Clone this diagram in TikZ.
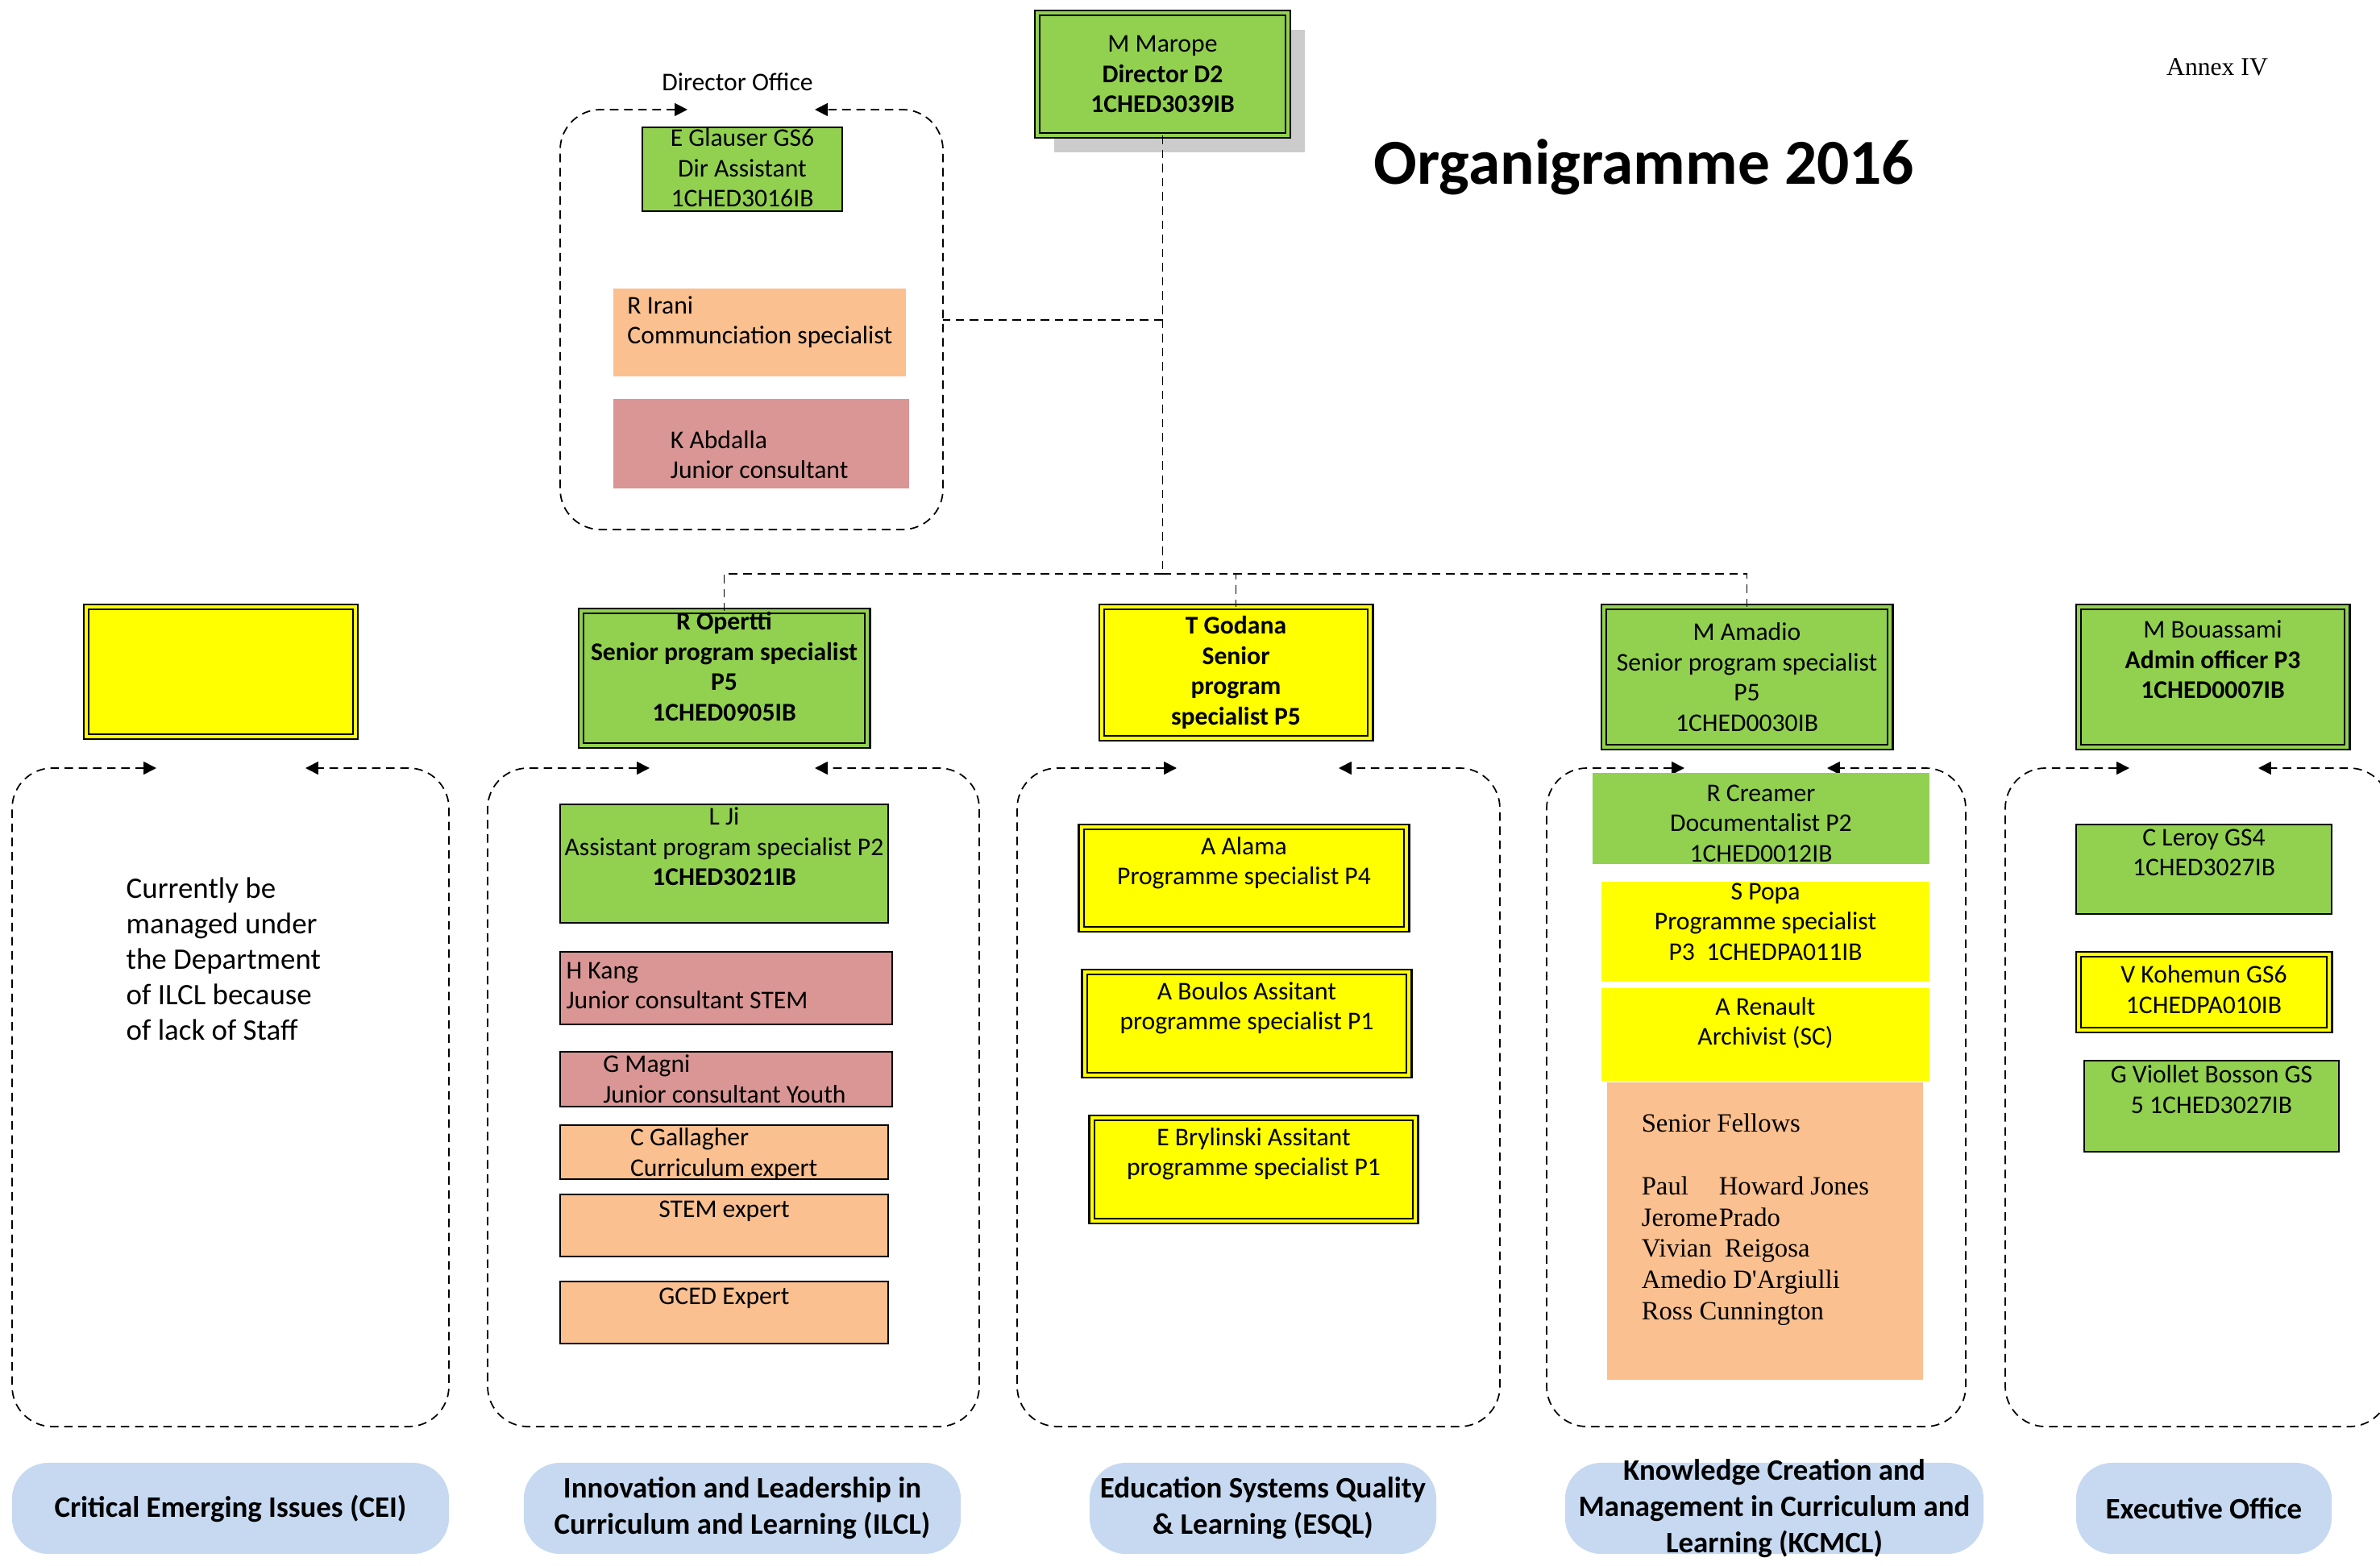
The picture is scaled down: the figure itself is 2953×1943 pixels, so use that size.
\documentclass[tikz,border=0pt]{standalone}
\usepackage{fontspec}
\setmainfont{Carlito}
\newfontfamily\timesfont{Liberation Serif}
\usetikzlibrary{arrows.meta,positioning,shadows}
\definecolor{cgreen}{HTML}{92D050}
\definecolor{cyellow}{HTML}{FFFF00}
\definecolor{cpeach}{HTML}{FAC090}
\definecolor{cpink}{HTML}{D99694}
\definecolor{cblue}{HTML}{C6D9F1}
\tikzset{
  card/.style  ={inner sep=0pt,outer sep=0pt},
  edged/.style ={card,draw,line width=0.6pt},
  dbl/.style   ={card,draw,line width=0.6pt,double=#1,double distance=1.3pt,fill=#1},
  txt/.style   ={font=\fontsize{9}{10.7}\selectfont,align=center,inner sep=0pt},
  ltxt/.style  ={txt,align=left},
  pill/.style  ={fill=cblue,rounded corners=0.45cm,inner sep=0pt,
                 font=\fontsize{10.5}{12.8}\selectfont\bfseries,align=center},
  grp/.style   ={dash pattern=on 3pt off 2pt,line width=0.5pt,rounded corners=0.5cm,
                 {Triangle[length=4.5pt,width=4.5pt]}-{Triangle[length=4.5pt,width=4.5pt]}},
  link/.style  ={dash pattern=on 3pt off 2pt,line width=0.5pt},
}

\begin{document}
\begin{tikzpicture}[x=0.01cm,y=-0.01cm]
  \useasboundingbox (0,0) rectangle (2953,1943);

  % group frames
  \foreach \xl/\xr/\yt/\yb/\pl/\pr in {695/1170/136/657/853/1011,
      15/557/953/1770/194/379, 605/1215/953/1770/806/1011,
      1262/1861/953/1770/1460/1661, 1919/2439/953/1770/2090/2267,
      2488/2965/953/1770/2642/2802}
    \draw[grp] (\pl,\yt) -- (\xl,\yt) -- (\xl,\yb) -- (\xr,\yb) -- (\xr,\yt) -- (\pr,\yt);

  \node[font=\fontsize{22.6}{27}\selectfont\bfseries] (title) at (2040,207) {Organigramme 2016};
  \node[font=\timesfont\fontsize{9}{11}\selectfont] (annex) at (2751,83) {Annex IV};

  % director and office
  \node[dbl=cgreen,txt,minimum width=3.11cm,minimum height=1.52cm,
        drop shadow={shadow xshift=0.21cm,shadow yshift=-0.21cm,fill=black!20,opacity=1}]
        (dir) at (1442.5,92) {M Marope\\\textbf{Director D2}\\\textbf{1CHED3039IB}};
  \node[txt] (ofclabel) at (915,102) {Director Office};

  \node[edged,fill=cgreen,minimum width=2.48cm,minimum height=1.04cm] (glauser) at (921,210) {};
  \node[txt,below=0.3pt of glauser.north] (glauserT) {E Glauser GS6\\Dir Assistant\\1CHED3016IB};
  \node[card,fill=cpeach,minimum width=3.63cm,minimum height=1.09cm] (irani) at (942.5,412.5) {};
  \node[ltxt,below right=2.5pt and 4.8pt of irani.north west] (iraniT) {R Irani\\Communciation specialist};
  \node[card,fill=cpink,minimum width=3.67cm,minimum height=1.11cm] (abdalla) at (944.5,550.5) {};
  \node[ltxt,below right=11pt and 20pt of abdalla.north west] (abdallaT) {K Abdalla\\Junior consultant};

  % heads
  \node[dbl=cyellow,minimum width=3.34cm,minimum height=1.61cm] (cei) at (274,833.5) {};
  \node[dbl=cgreen,minimum width=3.55cm,minimum height=1.67cm] (opertti) at (898.5,841.5) {};
  \node[txt,font=\fontsize{9}{10.7}\selectfont\bfseries,below=0.2pt of opertti.north]
        (operttiT) {R Opertti\\Senior program specialist\\P5\\1CHED0905IB};
  \node[dbl=cyellow,txt,font=\fontsize{9}{10.7}\selectfont\bfseries,minimum width=3.33cm,minimum height=1.63cm]
        (godana) at (1533.5,834.5) {T Godana\\Senior\\program\\specialist P5};
  \node[dbl=cgreen,txt,minimum width=3.55cm,minimum height=1.74cm]
        (amadio) at (2167.5,840) {M Amadio\\Senior program specialist\\P5\\1CHED0030IB};
  \node[dbl=cgreen,minimum width=3.33cm,minimum height=1.74cm] (bouassami) at (2745.5,840) {};
  \node[txt,below=4.6pt of bouassami.north] (bouassamiT) {M Bouassami\\\textbf{Admin officer P3}\\\textbf{1CHED0007IB}};

  \coordinate (bus) at (1442.5,712);
  \coordinate (ofcR) at (1170,397);
  \draw[link] (dir.south) -- (bus);
  \draw[link] (dir.south |- ofcR) -- (ofcR);
  \draw[link] (bus) -| (opertti.north);
  \draw[link] (bus) -| (godana.north);
  \draw[link] (bus) -| (amadio.north);

  % CEI
  \node[ltxt,font=\fontsize{10.5}{12.5}\selectfont,anchor=north west] (ceinote) at (156,1088)
        {Currently be\\managed under\\the Department\\of ILCL because\\of lack of Staff};

  % ILCL
  \node[edged,fill=cgreen,minimum width=4.07cm,minimum height=1.47cm] (ji) at (898.5,1071.5) {};
  \node[txt,below=0.9pt of ji.north] (jiT) {L Ji\\Assistant program specialist P2\\\textbf{1CHED3021IB}};
  \node[edged,fill=cpink,minimum width=4.12cm,minimum height=0.90cm] (kang) at (901,1226) {};
  \node[ltxt,below right=3.5pt and 2pt of kang.north west] (kangT) {H Kang\\Junior consultant STEM};
  \node[edged,fill=cpink,minimum width=4.12cm,minimum height=0.68cm] (magni) at (901,1339) {};
  \node[ltxt,below right=0.9pt and 15pt of magni.north west] (magniT) {G Magni\\Junior consultant Youth};
  \node[edged,fill=cpeach,minimum width=4.07cm,minimum height=0.67cm] (gallagher) at (898.5,1429.5) {};
  \node[ltxt,below right=0.9pt and 24.6pt of gallagher.north west] (gallagherT) {C Gallagher\\Curriculum expert};
  \node[edged,fill=cpeach,minimum width=4.07cm,minimum height=0.77cm] (stem) at (898.5,1520.5) {};
  \node[txt,below=2pt of stem.north] (stemT) {STEM expert};
  \node[edged,fill=cpeach,minimum width=4.07cm,minimum height=0.77cm] (gced) at (898.5,1628.5) {};
  \node[txt,below=2pt of gced.north] (gcedT) {GCED Expert};

  % ESQL
  \node[dbl=cyellow,minimum width=4.03cm,minimum height=1.27cm] (alama) at (1543.5,1089.5) {};
  \node[txt,below=3.3pt of alama.north] (alamaT) {A Alama\\Programme specialist P4};
  \node[dbl=cyellow,minimum width=4.02cm,minimum height=1.28cm] (boulos) at (1547,1270) {};
  \node[txt,below=3.3pt of boulos.north] (boulosT) {A Boulos Assitant\\programme specialist P1};
  \node[dbl=cyellow,minimum width=4.01cm,minimum height=1.28cm] (brylinski) at (1555.5,1451) {};
  \node[txt,below=3.3pt of brylinski.north] (brylinskiT) {E Brylinski Assitant\\programme specialist P1};

  % KCMCL
  \node[card,fill=cgreen,minimum width=4.18cm,minimum height=1.13cm] (creamer) at (2185,1015.5) {};
  \node[txt,below=4pt of creamer.north] (creamerT) {R Creamer\\Documentalist P2\\1CHED0012IB};
  \node[card,fill=cyellow,minimum width=4.07cm,minimum height=1.24cm] (popa) at (2190.5,1156) {};
  \node[txt,below=0.3pt of popa.north] (popaT) {S Popa\\Programme specialist\\P3~~1CHEDPA011IB};
  \node[card,fill=cyellow,minimum width=4.07cm,minimum height=1.15cm] (renault) at (2190.5,1283.5) {};
  \node[txt,below=3pt of renault.north] (renaultT) {A Renault\\Archivist (SC)};
  \node[card,fill=cpeach,minimum width=3.92cm,minimum height=3.69cm] (fellows) at (2190,1527.5) {};
  \node[ltxt,font=\timesfont\fontsize{9.3}{11}\selectfont,below right=11pt and 12pt of fellows.north west]
        (fellowsT) {Senior Fellows\\[11pt]\makebox[27.3pt][l]{Paul}Howard Jones\\\makebox[27.3pt][l]{Jerome}Prado\\
        Vivian\ \ Reigosa\\Amedio D'Argiulli\\Ross Cunnington};

  % Executive office
  \node[edged,fill=cgreen,minimum width=3.17cm,minimum height=1.11cm] (leroy) at (2734.5,1078.5) {};
  \node[txt,below=1.4pt of leroy.north] (leroyT) {C Leroy GS4\\1CHED3027IB};
  \node[dbl=cyellow,minimum width=3.11cm,minimum height=0.94cm] (kohemun) at (2734.5,1231) {};
  \node[txt,below=3.7pt of kohemun.north] (kohemunT) {V Kohemun GS6\\1CHEDPA010IB};
  \node[edged,fill=cgreen,minimum width=3.16cm,minimum height=1.13cm] (viollet) at (2744,1372.5) {};
  \node[txt,below=1.4pt of viollet.north] (violletT) {G Viollet Bosson GS\\5 1CHED3027IB};

  % department names
  \node[pill,minimum width=5.42cm,minimum height=1.13cm] (ceiP) at (286,1871.5) {Critical Emerging Issues (CEI)};
  \node[pill,minimum width=5.42cm,minimum height=1.13cm] (ilclP) at (921,1871.5)
        {Innovation and Leadership in\\Curriculum and Learning (ILCL)};
  \node[pill,minimum width=4.30cm,minimum height=1.13cm] (esqlP) at (1567,1871.5)
        {Education Systems Quality\\\& Learning (ESQL)};
  \node[pill,minimum width=5.19cm,minimum height=1.13cm] (kcmclP) at (2201.5,1871.5) {};
  \node[font=\fontsize{10.5}{12.8}\selectfont\bfseries,align=center,inner sep=0pt] (kcmclT) at (kcmclP)
        {Knowledge Creation and\\Management in Curriculum and\\Learning (KCMCL)};
  \node[pill,minimum width=3.17cm,minimum height=1.13cm] (execP) at (2734.5,1871.5) {Executive Office};
\end{tikzpicture}
\end{document}
